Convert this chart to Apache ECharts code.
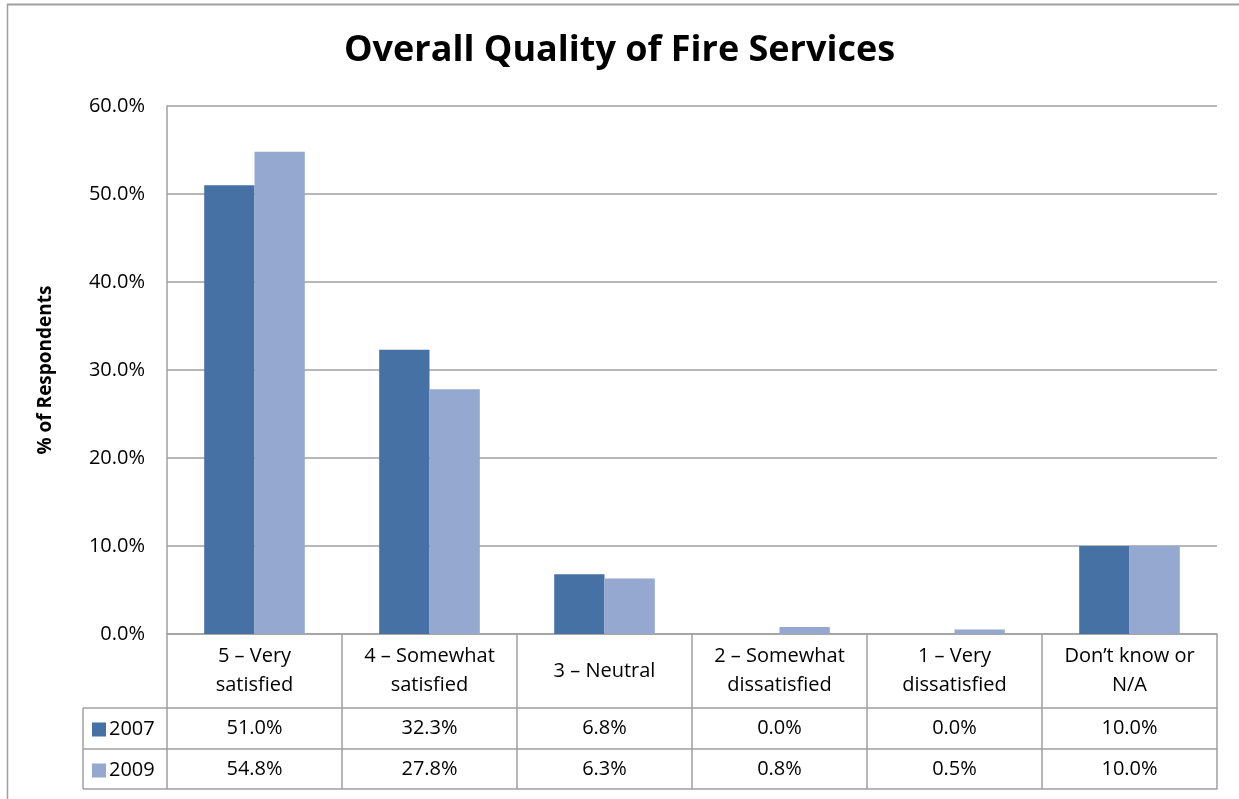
<!DOCTYPE html>
<html>
<head>
<meta charset="utf-8">
<script src="https://cdn.jsdelivr.net/npm/echarts@6/dist/echarts.min.js"></script>
<style>
html,body{margin:0;padding:0;background:#fff;}
#c{width:1239px;height:799px;}
</style>
</head>
<body>
<div id="c"></div>
<script>
var categories = ['5 – Very\nsatisfied', '4 – Somewhat\nsatisfied', '3 – Neutral', '2 – Somewhat\ndissatisfied', '1 – Very\ndissatisfied', 'Don’t know or\nN/A'];
var seriesNames = ['2007', '2009'];
var values2007 = [51.0, 32.3, 6.8, 0.0, 0.0, 10.0];
var values2009 = [54.8, 27.8, 6.3, 0.8, 0.5, 10.0];
var yTicks = {min: 0, max: 60, interval: 10};

var FONT = 'Open Sans';
var GRID = '#a0a0a0';
var C1 = '#4571A5', C2 = '#94A8D0';
var FS = 20;
function fmt(v){ return Number(v).toFixed(1) + '%'; }

var chart = echarts.init(document.getElementById('c'));
var option = {
  animation: false,
  backgroundColor: '#fff',
  title: {
    text: 'Overall Quality of Fire Services',
    left: 'center', top: 28,
    padding: [5, 5, 5, 14],
    textStyle: {fontFamily: FONT, fontWeight: 'bold', fontSize: 36, color: '#000'}
  },
  legend: {
    orient: 'vertical', left: 92, top: 716,
    itemWidth: 14, itemHeight: 14, itemGap: 14,
    icon: 'rect', padding: 0,
    data: seriesNames,
    selectedMode: false,
    textStyle: {fontFamily: FONT, fontSize: FS, color: '#000', padding: [0, 0, 0, -2], lineHeight: 27}
  },
  grid: {left: 167, right: 22, top: 106, bottom: 165},
  xAxis: [
    {
      type: 'category', data: categories, position: 'bottom',
      axisLine: {show: true, lineStyle: {color: GRID, width: 1.5}},
      axisTick: {show: true, interval: 0, length: 155, lineStyle: {color: GRID, width: 1.5}},
      axisLabel: {interval: 0, margin: 37, verticalAlign: 'middle', lineHeight: 29,
        fontFamily: FONT, fontSize: FS, color: '#000'}
    },
    {
      type: 'category', data: values2007.map(fmt), position: 'bottom', offset: 74,
      axisLine: {show: true, lineStyle: {color: GRID, width: 1.5}},
      axisTick: {show: false},
      axisLabel: {interval: 0, margin: 20, verticalAlign: 'middle', fontFamily: FONT, fontSize: FS, color: '#000'}
    },
    {
      type: 'category', data: values2009.map(fmt), position: 'bottom', offset: 115,
      axisLine: {show: true, lineStyle: {color: GRID, width: 1.5}},
      axisTick: {show: false},
      axisLabel: {interval: 0, margin: 20, verticalAlign: 'middle', fontFamily: FONT, fontSize: FS, color: '#000'}
    },
    {
      type: 'category', data: categories, position: 'bottom', offset: 155,
      axisLine: {show: true, lineStyle: {color: GRID, width: 1.5}},
      axisTick: {show: false},
      axisLabel: {show: false}
    }
  ],
  yAxis: {
    type: 'value', min: yTicks.min, max: yTicks.max, interval: yTicks.interval,
    name: '% of Respondents', nameLocation: 'middle', nameRotate: 90, nameGap: 112,
    nameTextStyle: {fontFamily: FONT, fontWeight: 'bold', fontSize: 19, color: '#000'},
    axisLine: {show: true, lineStyle: {color: GRID, width: 1.5}},
    axisTick: {show: false},
    axisLabel: {formatter: fmt, margin: 22, fontFamily: FONT, fontSize: FS, color: '#000'},
    splitLine: {show: true, lineStyle: {color: GRID, width: 1.5}}
  },
  series: [
    {name: seriesNames[0], type: 'bar', data: values2007, xAxisIndex: 0,
     barGap: '0%', barCategoryGap: '42.5%', itemStyle: {color: C1}},
    {name: seriesNames[1], type: 'bar', data: values2009, xAxisIndex: 0,
     barGap: '0%', barCategoryGap: '42.5%', itemStyle: {color: C2}}
  ]
};
chart.setOption(option);

var rect = chart.getModel().getComponent('grid').coordinateSystem.getRect();
var yAxisBottom = rect.y + rect.height;
var rowYs = [yAxisBottom + 74, yAxisBottom + 115, yAxisBottom + 155];
var leftX = 83;
var g = [];
rowYs.forEach(function(y){
  g.push({type: 'line', shape: {x1: leftX, y1: y, x2: rect.x, y2: y}, style: {stroke: GRID, lineWidth: 1.5}});
});
g.push({type: 'line', shape: {x1: leftX, y1: rowYs[0], x2: leftX, y2: rowYs[2]}, style: {stroke: GRID, lineWidth: 1.5}});
g.push({type: 'line', shape: {x1: 7, y1: 4.5, x2: 1239, y2: 4.5}, style: {stroke: GRID, lineWidth: 2}});
g.push({type: 'line', shape: {x1: 7.5, y1: 4, x2: 7.5, y2: 799}, style: {stroke: GRID, lineWidth: 1.5}});
chart.setOption({graphic: g});
</script>
</body>
</html>
